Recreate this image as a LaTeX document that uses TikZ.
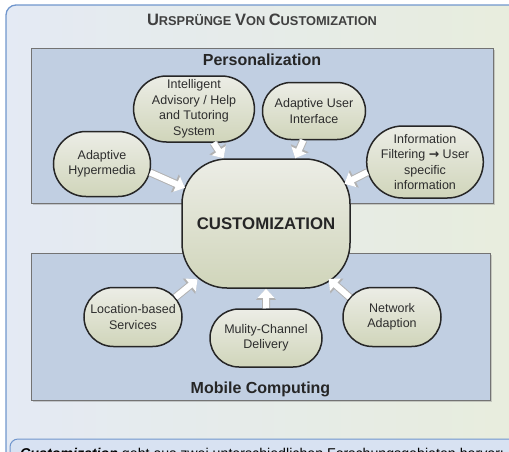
\documentclass[tikz,border=0pt]{standalone}
\usepackage{fontspec}
\setmainfont{Liberation Sans}
\newfontfamily\symfont{DejaVu Sans}
\usetikzlibrary{positioning,arrows.meta,shapes.misc,shadows}

\definecolor{frameblue}{RGB}{112,150,205}
\definecolor{paleleft}{RGB}{228,234,244}
\definecolor{paleright}{RGB}{232,237,220}
\definecolor{stripblue}{RGB}{216,226,242}
\definecolor{boxblue}{RGB}{193,207,226}
\definecolor{nodetop}{RGB}{236,237,230}
\definecolor{nodebot}{RGB}{208,213,186}
\definecolor{inkgray}{RGB}{45,45,45}

\newcommand{\capbig}[1]{{\fontsize{16.5}{18}\selectfont #1}}

\tikzset{
  area/.style={draw=black!55, line width=0.9pt, fill=boxblue,
    drop shadow={shadow xshift=2pt, shadow yshift=-2pt, opacity=0.35}},
  origin/.style={rounded rectangle, draw=black!85, line width=1.5pt,
    top color=nodetop, bottom color=nodebot, align=center, text=inkgray,
    font=\fontsize{12.5}{15.5}\selectfont, inner sep=1pt},
  blockarr/.style={white, line width=6pt, -{Triangle[width=16pt,length=9pt]},
    preaction={draw=black!30, line width=8pt, -{Triangle[width=19pt,length=11pt]}}},
  heading/.style={font=\bfseries\fontsize{16}{18}\selectfont, text=black!85, inner sep=0pt}
}

\begin{document}
\begin{tikzpicture}[x=1pt,y=-1pt]
\useasboundingbox (0,0) rectangle (509,451);
\clip (0,0) rectangle (509,451);

% frame
\draw[frameblue, line width=1.3pt, rounded corners=10pt, left color=paleleft, right color=paleright]
  (6,5) rectangle (540,500);
\node[font=\bfseries\fontsize{12.8}{14}\selectfont, text=black!75, anchor=base] (title) at (262,25)
  {\capbig{U}RSPRÜNGE \capbig{V}ON \capbig{C}USTOMIZATION};

% the two areas
\node[area, minimum width=462pt, minimum height=155pt] (pers) at (262,125.5) {};
\node[area, minimum width=459pt, minimum height=147pt] (mob) at (260.5,326.5) {};
\node[heading, below=6.5pt of pers.north] (perstitle) {Personalization};
\node[heading, above=3pt of mob.south] (mobtitle) {Mobile Computing};

% customization
\node[draw=black!85, line width=1.5pt, rounded corners=45pt, top color=nodetop, bottom color=nodebot,
  minimum width=168pt, minimum height=129pt, text=black!85,
  font=\bfseries\fontsize{16.8}{18}\selectfont] (cust) at (266,223.5) {CUSTOMIZATION};

% personalization origins
\node[origin, minimum width=99pt, minimum height=65pt] (hyper) at (102,164) {Adaptive\\Hypermedia};
\node[origin, minimum width=105pt, minimum height=66pt] (intel) at (194,109) {Intelligent\\Advisory / Help\\and Tutoring\\System};
\node[origin, minimum width=105pt, minimum height=57pt] (aui) at (314,111) {Adaptive User\\Interface};
\node[origin, minimum width=114pt, minimum height=72pt] (info) at (425,162) {Information\\Filtering {\symfont\bfseries →} User\\specific\\information};

% mobile computing origins
\node[origin, minimum width=100pt, minimum height=59pt] (loc) at (133,317) {Location-based\\Services};
\node[origin, minimum width=114pt, minimum height=58pt] (mul) at (266,338) {Mulity-Channel\\Delivery};
\node[origin, minimum width=100pt, minimum height=59pt] (net) at (392,317) {Network\\Adaption};

\draw[blockarr, shorten >=-4pt] (hyper.-10) -- (cust);
\draw[blockarr] (intel.-60) -- (cust);
\draw[blockarr] (aui.-110) -- (cust);
\draw[blockarr, shorten >=-7pt] (info.190) -- (cust);
\draw[blockarr, shorten >=-15pt] (loc.25) -- (cust);
\draw[blockarr] (mul) -- (cust);
\draw[blockarr, shorten >=-15pt] (net.155) -- (cust);

% caption strip, cut by the lower edge
\draw[frameblue, line width=1pt, rounded corners=8pt, fill=stripblue] (10,439) rectangle (540,500);
\node[anchor=base west, inner sep=0pt, text=black, font=\fontsize{14.2}{16}\selectfont] (caption) at (20,458)
  {\textbf{\textit{Customization}} geht aus zwei unterschiedlichen Forschungsgebieten hervor:};
\end{tikzpicture}
\end{document}
